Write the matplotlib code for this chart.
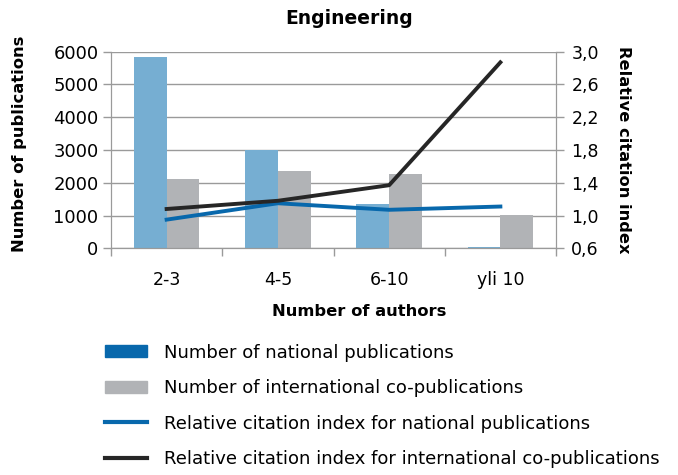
import matplotlib
matplotlib.use("Agg")
import matplotlib.pyplot as plt
import numpy as np
from matplotlib.patches import Patch
from matplotlib.lines import Line2D

plt.rcParams['font.family'] = ['DejaVu Sans']

categories = ["2-3", "4-5", "6-10", "yli 10"]
national_pubs = [5850, 3000, 1350, 40]
international_pubs = [2120, 2360, 2270, 1015]
rci_national = [0.95, 1.15, 1.07, 1.11]
rci_international = [1.08, 1.18, 1.37, 2.87]
left_ticks = [0, 1000, 2000, 3000, 4000, 5000, 6000]
right_ticks = [0.6, 1.0, 1.4, 1.8, 2.2, 2.6, 3.0]
right_labels = ["0,6", "1,0", "1,4", "1,8", "2,2", "2,6", "3,0"]

c_bar_nat = "#76AED2"
c_bar_int = "#B1B3B6"
c_line_nat = "#0868AC"
c_line_int = "#262626"
c_leg_nat = "#0868AC"
c_axis = "#9A9A9A"

fig = plt.figure(figsize=(6.78, 4.75), dpi=100)
ax = fig.add_axes([111/678, 1-248.3/475, (556-111)/678, (248.3-51.7)/475])
x = np.arange(len(categories))
w = 0.295
ax.bar(x - w/2, national_pubs, width=w, color=c_bar_nat, zorder=2)
ax.bar(x + w/2, international_pubs, width=w, color=c_bar_int, zorder=2)
ax.set_ylim(0, 6000)
ax.set_xlim(-0.5, len(categories) - 0.5)
ax.set_yticks(left_ticks)
ax.tick_params(axis='y', labelsize=13, length=6, color=c_axis, width=1, pad=3)
ax.yaxis.grid(True, color=c_axis, linewidth=1, zorder=0)
ax.set_axisbelow(True)
ax.set_xticks(np.arange(-0.5, len(categories)), minor=False)
ax.set_xticklabels([])
ax.tick_params(axis='x', which='major', length=6, color=c_axis, width=1)
ax.set_xticks(x, minor=True)
ax.set_xticklabels(categories, minor=True)
ax.tick_params(axis='x', which='minor', length=0, labelsize=12.5, pad=16)
for s in ['left', 'right', 'bottom']:
    ax.spines[s].set_color(c_axis)
ax.spines['top'].set_visible(False)
ax.set_ylabel("Number of publications", fontsize=11.8, fontweight='bold', labelpad=19)
ax.yaxis.label.set_y(0.53)
ax.set_xlabel("Number of authors", fontsize=11.8, fontweight='bold', labelpad=11)
ax.xaxis.label.set_x(0.558)
ax.set_title("Engineering", fontsize=13.5, fontweight='bold', pad=20, x=0.536)

ax2 = ax.twinx()
ax2.plot(x, rci_national, color=c_line_nat, linewidth=2.8, zorder=3)
ax2.plot(x, rci_international, color=c_line_int, linewidth=2.8, zorder=4)
ax2.set_ylim(0.6, 3.0)
ax2.set_yticks(right_ticks)
ax2.set_yticklabels(right_labels)
ax2.tick_params(axis='y', labelsize=12.5, length=6, color=c_axis, width=1, pad=5)
for s in ['left', 'right', 'bottom']:
    ax2.spines[s].set_color(c_axis)
ax2.spines['top'].set_visible(False)
ax2.set_ylabel("Relative citation index", fontsize=11.7, fontweight='bold', rotation=270, labelpad=23)

handles = [Patch(color=c_leg_nat), Patch(color=c_bar_int),
           Line2D([], [], color=c_line_nat, linewidth=3),
           Line2D([], [], color=c_line_int, linewidth=3)]
labels = ["Number of national publications", "Number of international co-publications",
          "Relative citation index for national publications",
          "Relative citation index for international co-publications"]
fig.legend(handles, labels, loc='upper left', bbox_to_anchor=(92/678, 1-331/475),
           frameon=False, fontsize=13, handlelength=2.33, handleheight=0.66,
           handletextpad=0.94, labelspacing=0.97, borderpad=0.2)

fig.savefig("out.png", dpi=100)
